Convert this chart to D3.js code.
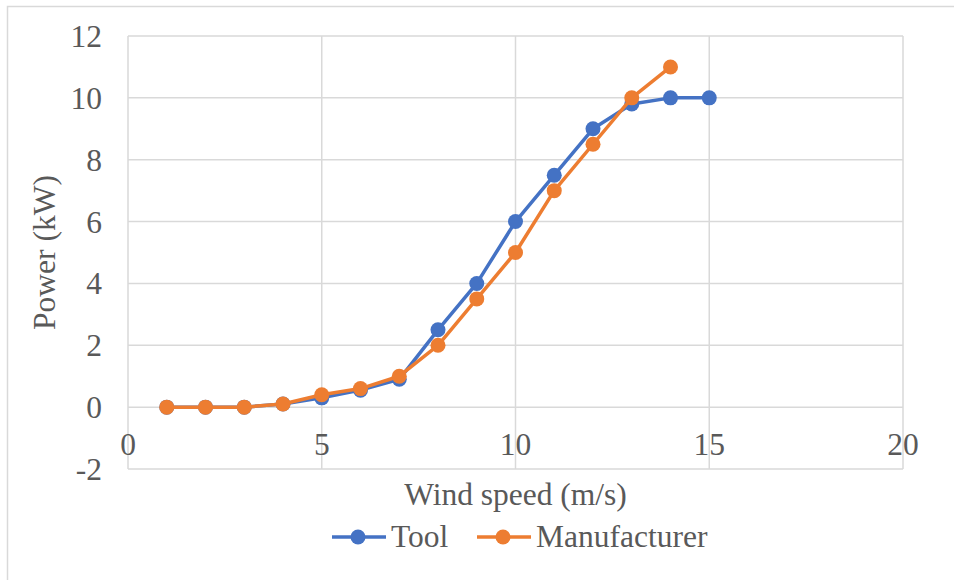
<!DOCTYPE html>
<html>
<head>
<meta charset="utf-8">
<script src="https://cdn.jsdelivr.net/npm/d3@7"></script>
<style>
body { margin: 0; background: #fff; }
.grid line { stroke: #d9d9d9; stroke-width: 1.5; }
</style>
</head>
<body>
<div id="chart"></div>
<script>
var windSpeed    = [1, 2, 3, 4, 5, 6, 7, 8, 9, 10, 11, 12, 13, 14, 15]
var toolPower    = [0, 0, 0, 0.1, 0.3, 0.55, 0.9, 2.5, 4, 6, 7.5, 9, 9.8, 10, 10]
var mfrSpeed     = [1, 2, 3, 4, 5, 6, 7, 8, 9, 10, 11, 12, 13, 14]
var mfrPower     = [0, 0, 0, 0.1, 0.4, 0.6, 1.0, 2, 3.5, 5, 7, 8.5, 10, 11]
var xTicks = [0, 5, 10, 15, 20]
var yTicks = [-2, 0, 2, 4, 6, 8, 10, 12]

var wd = 954, ht = 580
var serif = "'Liberation Serif', 'Times New Roman', Times, 'DejaVu Serif', serif"
var svg = d3.select('#chart').append('svg').attr('width', wd).attr('height', ht)
	.attr('font-family', serif).attr('fill', '#595959')

// outer chart frame
svg.append('rect').attr('x', 7.5).attr('y', 6.5).attr('width', 960).attr('height', 600)
	.style('fill', 'none').style('stroke', '#d9d9d9').style('stroke-width', 1.5)

var plotL = 128, plotR = 903, plotT = 36, plotB = 469
var x = d3.scaleLinear().domain([0, 20]).range([plotL, plotR])
var y = d3.scaleLinear().domain([-2, 12]).range([plotB, plotT])

var grid = svg.append('g').attr('class', 'grid')
yTicks.forEach(function(t){
	grid.append('line').attr('x1', plotL).attr('x2', plotR).attr('y1', y(t)).attr('y2', y(t))
})
xTicks.forEach(function(t){
	grid.append('line').attr('x1', x(t)).attr('x2', x(t)).attr('y1', plotT).attr('y2', plotB)
})

function label(sel){
	return sel.style('font-family', serif).style('font-size', '31.5px').style('fill', '#595959')
}

// y tick labels
label(svg.append('g').selectAll('text').data(yTicks).join('text')
	.attr('x', plotL - 26).attr('y', function(d){ return y(d) + 11 })
	.attr('text-anchor', 'end').text(function(d){ return d }))

// x tick labels sit under the zero line
label(svg.append('g').selectAll('text').data(xTicks).join('text')
	.attr('x', function(d){ return x(d) }).attr('y', 455)
	.attr('text-anchor', 'middle').text(function(d){ return d }))

label(svg.append('text').attr('x', (plotL + plotR) / 2).attr('y', 505)
	.attr('text-anchor', 'middle').text('Wind speed (m/s)'))

label(svg.append('text').attr('transform', 'translate(55,' + ((plotT + plotB) / 2) + ') rotate(-90)')
	.attr('text-anchor', 'middle').text('Power (kW)'))

var series = [
	{ name: 'Tool', color: '#4472C4', xs: windSpeed, ys: toolPower },
	{ name: 'Manufacturer', color: '#ED7D31', xs: mfrSpeed, ys: mfrPower }
]

var line = d3.line().x(function(d){ return x(d[0]) }).y(function(d){ return y(d[1]) })

series.forEach(function(s){
	var pts = s.xs.map(function(v, i){ return [v, s.ys[i]] })
	var g = svg.append('g')
	g.append('path').datum(pts).attr('d', line)
		.style('fill', 'none').style('stroke', s.color).style('stroke-width', 3.5)
		.style('stroke-linejoin', 'round')
	g.selectAll('circle').data(pts).join('circle')
		.attr('cx', function(d){ return x(d[0]) }).attr('cy', function(d){ return y(d[1]) })
		.attr('r', 7.5).style('fill', s.color)
})

// legend
var legend = [
	{ name: 'Tool', color: '#4472C4', x0: 332 },
	{ name: 'Manufacturer', color: '#ED7D31', x0: 477 }
]
legend.forEach(function(l){
	var g = svg.append('g')
	g.append('line').attr('x1', l.x0).attr('x2', l.x0 + 54).attr('y1', 537).attr('y2', 537)
		.style('stroke', l.color).style('stroke-width', 3.5)
	g.append('circle').attr('cx', l.x0 + 26).attr('cy', 537).attr('r', 7.5).style('fill', l.color)
	label(g.append('text').attr('x', l.x0 + 59).attr('y', 547).text(l.name))
})
</script>
</body>
</html>
